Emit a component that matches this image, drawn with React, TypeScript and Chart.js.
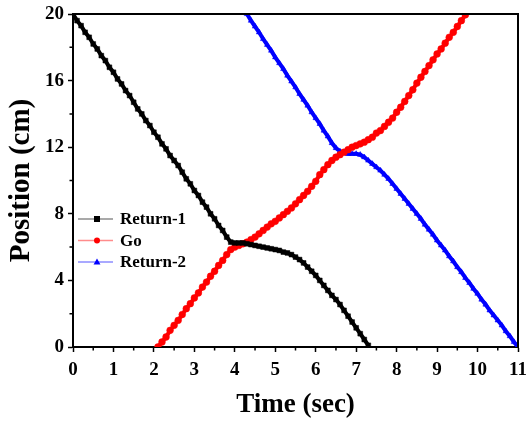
import React, { useEffect, useRef } from 'react';
import { Chart, registerables } from 'chart.js';

Chart.register(...registerables);

const FONT = '"Liberation Serif", "Times New Roman", serif';

// Sampling interval of the position readings (seconds)
const sampleStep = 0.1;

// Return-1: starts at t = 0.0 s
const returnOneStart = 0.0;
const returnOnePos = [
  20.0, 19.6, 19.3, 18.9, 18.6, 18.2, 17.9, 17.5, 17.2, 16.8,
  16.5, 16.1, 15.8, 15.4, 15.1, 14.7, 14.3, 14.0, 13.6, 13.3,
  12.9, 12.6, 12.2, 11.9, 11.5, 11.2, 10.9, 10.5, 10.1, 9.8,
  9.4, 9.1, 8.7, 8.4, 8.0, 7.7, 7.3, 7.0, 6.6, 6.3,
  6.25, 6.25, 6.25, 6.2, 6.15, 6.1, 6.05, 6.0, 5.95, 5.9,
  5.85, 5.8, 5.7, 5.65, 5.55, 5.4, 5.25, 5.05, 4.8, 4.55,
  4.3, 4.0, 3.7, 3.4, 3.1, 2.85, 2.55, 2.2, 1.85, 1.5,
  1.15, 0.8, 0.45, 0.1,
];

// Go: starts at t = 2.1 s
const goStart = 2.1;
const goPos = [
  0.0, 0.3, 0.6, 1.0, 1.3, 1.6, 1.95, 2.3, 2.6, 2.95,
  3.25, 3.6, 3.9, 4.25, 4.55, 4.9, 5.2, 5.55, 5.85, 6.0,
  6.1, 6.2, 6.3, 6.45, 6.6, 6.8, 7.0, 7.2, 7.4, 7.55,
  7.75, 7.95, 8.15, 8.35, 8.6, 8.85, 9.1, 9.35, 9.65, 9.95,
  10.35, 10.65, 10.95, 11.2, 11.4, 11.55, 11.7, 11.85, 12.0, 12.1,
  12.2, 12.3, 12.45, 12.6, 12.85, 13.0, 13.25, 13.5, 13.75, 14.1,
  14.4, 14.75, 15.1, 15.45, 15.85, 16.2, 16.55, 16.9, 17.25, 17.6,
  17.9, 18.25, 18.6, 18.9, 19.25, 19.6, 19.95,
];

// Return-2: starts at t = 4.3 s
const returnTwoStart = 4.3;
const returnTwoPos = [
  20.0, 19.6, 19.25, 18.9, 18.5, 18.15, 17.8, 17.4, 17.05, 16.7,
  16.3, 15.95, 15.6, 15.2, 14.85, 14.5, 14.1, 13.75, 13.4, 13.0,
  12.65, 12.25, 11.95, 11.75, 11.65, 11.6, 11.6, 11.6, 11.55, 11.4,
  11.2, 11.0, 10.8, 10.6, 10.35, 10.1, 9.8, 9.5, 9.2, 8.9,
  8.6, 8.3, 8.0, 7.7, 7.35, 7.05, 6.75, 6.4, 6.1, 5.8,
  5.45, 5.15, 4.8, 4.5, 4.15, 3.85, 3.5, 3.2, 2.85, 2.55,
  2.2, 1.9, 1.6, 1.3, 0.95, 0.65, 0.3, 0.0,
];

const seriesNames = ['Return-1', 'Go', 'Return-2'];
const seriesColors = ['#000000', '#ff0000', '#0000ff'];
const legendLineColors = ['#8c8c8c', '#ff8c8c', '#8c8cff'];
const seriesMarkers = ['rect', 'circle', 'triangle'] as const;

const xRange = [0, 11];
const xStep = 1;
const yRange = [0, 20];
const yStep = 4;

const toPoints = (start: number, values: number[]) =>
  values.map((y, i) => ({ x: Math.round((start + i * sampleStep) * 100) / 100, y }));

function drawMarker(ctx: CanvasRenderingContext2D, style: string, x: number, y: number, r: number) {
  ctx.beginPath();
  if (style === 'rect') {
    ctx.rect(x - r, y - r, 2 * r, 2 * r);
  } else if (style === 'circle') {
    ctx.arc(x, y, r, 0, Math.PI * 2);
  } else {
    ctx.moveTo(x, y - r * 1.15);
    ctx.lineTo(x + r * 1.15, y + r * 0.85);
    ctx.lineTo(x - r * 1.15, y + r * 0.85);
    ctx.closePath();
  }
  ctx.fill();
}

// Frame on top/right, minor ticks halfway between labelled ticks, and the legend box
const framePlugin = {
  id: 'frameAndLegend',
  afterDraw(chart: any) {
    const { ctx, chartArea } = chart;
    const { left, right, top, bottom } = chartArea;
    const xs = chart.scales.x;
    const ys = chart.scales.y;
    ctx.save();
    ctx.strokeStyle = '#000';
    ctx.lineWidth = 2;
    ctx.beginPath();
    ctx.moveTo(left, top);
    ctx.lineTo(right, top);
    ctx.lineTo(right, bottom);
    ctx.stroke();

    ctx.lineWidth = 1.5;
    ctx.beginPath();
    const xt = xs.ticks.map((t: any) => t.value);
    for (let i = 0; i + 1 < xt.length; i++) {
      const px = xs.getPixelForValue((xt[i] + xt[i + 1]) / 2);
      ctx.moveTo(px, bottom);
      ctx.lineTo(px, bottom + 3.5);
    }
    const yt = ys.ticks.map((t: any) => t.value);
    for (let i = 0; i + 1 < yt.length; i++) {
      const py = ys.getPixelForValue((yt[i] + yt[i + 1]) / 2);
      ctx.moveTo(left, py);
      ctx.lineTo(left - 3.5, py);
    }
    ctx.stroke();

    // legend
    const rowY0 = top + 205;
    const rowGap = 21.5;
    ctx.font = `bold 17px ${FONT}`;
    ctx.textBaseline = 'middle';
    ctx.textAlign = 'left';
    seriesNames.forEach((name, i) => {
      const y = rowY0 + i * rowGap;
      ctx.strokeStyle = legendLineColors[i];
      ctx.lineWidth = 1.5;
      ctx.beginPath();
      ctx.moveTo(left + 5, y);
      ctx.lineTo(left + 40, y);
      ctx.stroke();
      ctx.fillStyle = seriesColors[i];
      drawMarker(ctx, seriesMarkers[i], left + 24, y, 3);
      ctx.fillStyle = '#000';
      ctx.fillText(name, left + 47, y + 1);
    });
    ctx.restore();
  },
};

export default function App() {
  const canvasRef = useRef<HTMLCanvasElement | null>(null);

  useEffect(() => {
    if (!canvasRef.current) return;
    const allSeries = [
      toPoints(returnOneStart, returnOnePos),
      toPoints(goStart, goPos),
      toPoints(returnTwoStart, returnTwoPos),
    ];
    const chart = new Chart(canvasRef.current, {
      type: 'line',
      data: {
        datasets: allSeries.map((pts, i) => ({
          label: seriesNames[i],
          data: pts,
          borderColor: seriesColors[i],
          backgroundColor: seriesColors[i],
          borderWidth: 4,
          pointStyle: seriesMarkers[i],
          pointRadius: seriesMarkers[i] === 'triangle' ? 3.2 : 3.4,
          pointBorderWidth: 0.5,
          pointBorderColor: seriesColors[i],
          pointBackgroundColor: seriesColors[i],
          tension: 0,
        })),
      },
      options: {
        animation: false,
        responsive: false,
        layout: { padding: { top: 14, right: 11, left: 0, bottom: 0 } },
        plugins: { legend: { display: false }, tooltip: { enabled: false } },
        scales: {
          x: {
            type: 'linear',
            min: xRange[0],
            max: xRange[1],
            afterFit: (s: any) => { s.height = 76; s.paddingLeft = 0; s.paddingRight = 0; },
            ticks: { stepSize: xStep, color: '#000', padding: 7, font: { family: FONT, size: 19, weight: 'bold' } },
            grid: { drawOnChartArea: false, drawTicks: true, tickLength: 5, tickColor: '#000', tickWidth: 1.5 },
            border: { display: true, color: '#000', width: 2 },
            title: { display: true, text: 'Time (sec)', color: '#000', padding: { top: 0, bottom: 2 }, font: { family: FONT, size: 27, weight: 'bold' } },
          },
          y: {
            type: 'linear',
            min: yRange[0],
            max: yRange[1],
            afterFit: (s: any) => { s.width = 73; s.paddingTop = 0; s.paddingBottom = 0; },
            ticks: { stepSize: yStep, color: '#000', padding: 4, font: { family: FONT, size: 19, weight: 'bold' } },
            grid: { drawOnChartArea: false, drawTicks: true, tickLength: 5, tickColor: '#000', tickWidth: 1.5 },
            border: { display: true, color: '#000', width: 2 },
            title: { display: true, text: 'Position (cm)', color: '#000', padding: { top: 4, bottom: 0 }, font: { family: FONT, size: 29, weight: 'bold' } },
          },
        },
      },
      plugins: [framePlugin],
    } as any);
    return () => chart.destroy();
  }, []);

  return (
    <div style={{ position: 'fixed', left: 0, top: 0, width: 529, height: 423, background: '#fff' }}>
      <canvas ref={canvasRef} width={529} height={423} />
    </div>
  );
}
